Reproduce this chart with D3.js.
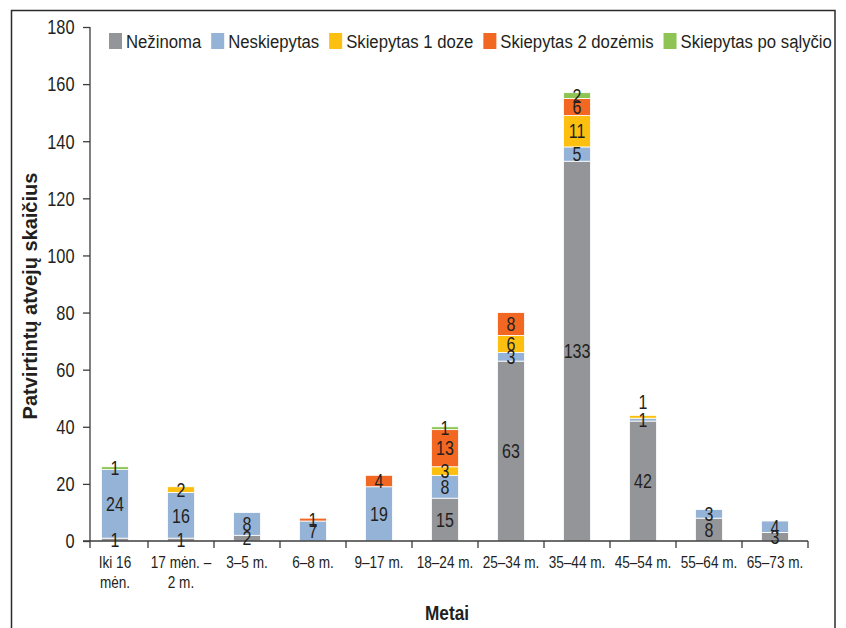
<!DOCTYPE html>
<html>
<head>
<meta charset="utf-8">
<script src="https://cdn.jsdelivr.net/npm/d3@7"></script>
<style>
  html, body { margin: 0; padding: 0; background: #fff; }
  svg { display: block; }
  .nar { font-family: "Liberation Sans", Arial, sans-serif; }
  .bold { font-family: "Liberation Sans", Arial, sans-serif; font-weight: bold; }
</style>
</head>
<body>
<svg id="chart" width="846" height="628"></svg>
<script>
// ---- data ----
const categories = ["Iki 16 mėn.", "17 mėn. – 2 m.", "3–5 m.", "6–8 m.", "9–17 m.", "18–24 m.", "25–34 m.", "35–44 m.", "45–54 m.", "55–64 m.", "65–73 m."];
const tickLabelLines = [["Iki 16", "mėn."], ["17 mėn. –", "2 m."], ["3–5 m."], ["6–8 m."], ["9–17 m."], ["18–24 m."], ["25–34 m."], ["35–44 m."], ["45–54 m."], ["55–64 m."], ["65–73 m."]];
const seriesNames = ["Nežinoma", "Neskiepytas", "Skiepytas 1 doze", "Skiepytas 2 dozėmis", "Skiepytas po sąlyčio"];
const nezinoma     = [1, 1, 2, 0, 0, 15, 63, 133, 42, 8, 3];
const neskiepytas  = [24, 16, 8, 7, 19, 8, 3, 5, 1, 3, 4];
const skiep1       = [0, 2, 0, 0, 0, 3, 6, 11, 1, 0, 0];
const skiep2       = [0, 0, 0, 1, 4, 13, 8, 6, 0, 0, 0];
const skiepPoSal   = [1, 0, 0, 0, 0, 1, 0, 2, 0, 0, 0];
const yTicks = [0, 20, 40, 60, 80, 100, 120, 140, 160, 180];
const yTitle = "Patvirtintų atvejų skaičius";
const xTitle = "Metai";
const colors = ["#939598", "#95b3d7", "#fdc010", "#f26722", "#8dc453"];

const seriesValues = [nezinoma, neskiepytas, skiep1, skiep2, skiepPoSal];
const rows = categories.map((c, i) => {
  const r = { cat: c };
  seriesNames.forEach((s, k) => r[s] = seriesValues[k][i]);
  return r;
});
const stacked = d3.stack().keys(seriesNames)(rows);

const svg = d3.select("#chart");
const textColor = "#231f20";
const axisColor = "#3c3c3c";

function addText(parent, px, py, str, size, sx, anchor, cls) {
  return parent.append("text").attr("class", cls || "nar")
    .attr("font-size", size).attr("fill", textColor)
    .attr("text-anchor", anchor || "start")
    .attr("transform", `translate(${px},${py}) scale(${sx},1)`)
    .text(str);
}

// frame
svg.append("rect").attr("x", 11.5).attr("y", 10.5).attr("width", 823.5).attr("height", 640)
  .attr("fill", "none").attr("stroke", "#2b2b2b").attr("stroke-width", 1.5);

const y = d3.scaleLinear().domain([0, 180]).range([541, 27]);
const x = d3.scaleBand().domain(categories).range([82, 808]).paddingInner(0).paddingOuter(0);
const barW = x.bandwidth() * 0.41;
const axisX = 90;

// bars
const gBars = svg.append("g");
stacked.forEach((layer, k) => {
  gBars.selectAll(null).data(layer.filter(d => d[1] - d[0] > 0)).enter().append("rect")
    .attr("x", d => x(d.data.cat) + (x.bandwidth() - barW) / 2)
    .attr("y", d => y(d[1]))
    .attr("width", barW)
    .attr("height", d => y(d[0]) - y(d[1]))
    .attr("fill", colors[k])
    .attr("stroke", "#ffffff").attr("stroke-width", 0.8);
});

// y axis
const ySx = 0.84;
const yAxis = d3.axisLeft(y).tickValues(yTicks).tickSize(7).tickPadding(8).tickFormat(d3.format("d"));
const gy = svg.append("g").attr("transform", `translate(${axisX},0)`).call(yAxis);
gy.select(".domain").attr("stroke", axisColor).attr("stroke-width", 1.3).attr("d", `M0,${y(180)}V548`);
gy.selectAll(".tick line").attr("stroke", axisColor).attr("stroke-width", 1.3);
gy.selectAll(".tick text").attr("class", "nar").attr("font-size", 19.5).attr("fill", textColor)
  .attr("font-family", null)
  .attr("x", -15.5 / ySx).attr("dy", "0.35em").attr("transform", `scale(${ySx},1)`);

// x axis line
svg.append("line").attr("x1", axisX - 7).attr("x2", x.range()[1]).attr("y1", y(0)).attr("y2", y(0))
  .attr("stroke", axisColor).attr("stroke-width", 1.3);
// boundary ticks
svg.selectAll(null).data(categories.slice(1).map(c => x(c)).concat([x.range()[1]])).enter().append("line")
  .attr("x1", d => d).attr("x2", d => d).attr("y1", y(0)).attr("y2", y(0) + 7)
  .attr("stroke", axisColor).attr("stroke-width", 1.3);

// x tick labels
categories.forEach((c, i) => {
  const t = svg.append("text").attr("class", "nar").attr("font-size", 17).attr("fill", textColor)
    .attr("text-anchor", "middle")
    .attr("transform", `translate(${x(c) + x.bandwidth() / 2},568) scale(0.8,1)`);
  tickLabelLines[i].forEach((ln, j) => {
    t.append("tspan").attr("x", 0).attr("y", j * 20).text(ln);
  });
});

// data labels (with a small nudge apart when two labels of one bar nearly coincide)
const labels = [];
categories.forEach((c, i) => {
  let prevY = null;
  stacked.forEach((layer) => {
    const d = layer[i];
    const v = d[1] - d[0];
    if (v <= 0) return;
    let ly = (y(d[0]) + y(d[1])) / 2;
    if (prevY !== null && prevY - ly < 6) ly = prevY - 18;
    labels.push({ c, v, ly });
    prevY = ly;
  });
});
labels.forEach(l => {
  addText(svg, x(l.c) + x.bandwidth() / 2, l.ly, l.v, 20, 0.8, "middle").attr("dy", "0.36em");
});

// legend
const leg = svg.append("g");
const legSx = 0.88;
let lx = 109;
seriesNames.forEach((s, k) => {
  leg.append("rect").attr("x", lx).attr("y", 33).attr("width", 13).attr("height", 16).attr("fill", colors[k]);
  const t = addText(leg, lx + 17, 48, s, 19, legSx, "start");
  lx = lx + 17 + t.node().getComputedTextLength() * legSx + 10;
});

// axis titles
svg.append("text").attr("class", "bold").attr("font-size", 20).attr("fill", textColor)
  .attr("text-anchor", "middle")
  .attr("transform", "translate(37,296) rotate(-90)").text(yTitle);
addText(svg, 447, 620, xTitle, 20, 0.86, "middle", "bold");
</script>
</body>
</html>
